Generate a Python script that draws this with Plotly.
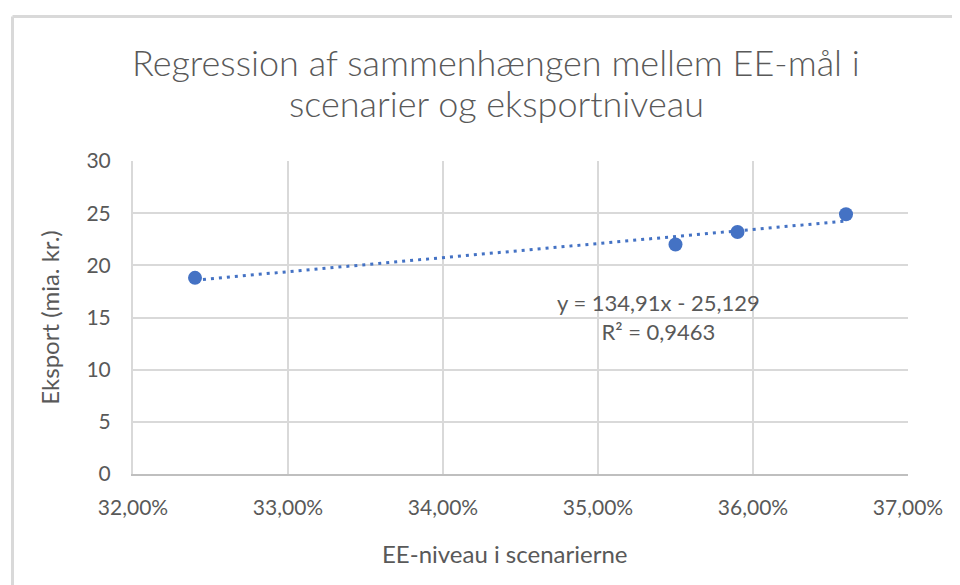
import plotly.graph_objects as go

# Data
ee_level = [0.324, 0.355, 0.359, 0.366]
export_bn = [18.8, 22.0, 23.2, 24.9]
slope = 134.91
intercept = -25.129
r_squared = 0.9463
title_lines = ["Regression af sammenhængen mellem EE-mål i", "scenarier og eksportniveau"]
x_title = "EE-niveau i scenarierne"
y_title = "Eksport (mia. kr.)"

OFF = 8  # page body margin
W, H = 960 - OFF, 585 - OFF
L = 133 - OFF
T = 161 - OFF
R = W - (908 - OFF)
B = H - (474 - OFF)
pw, ph = W - L - R, H - T - B

def px(xp):
    return (xp - OFF - L) / pw

def py(yp):
    return (H - B - (yp - OFF)) / ph

FONT = "Lato"
GREY = "#595959"
BLUE = "#4472C4"

trend_x = [min(ee_level), max(ee_level)]
trend_y = [slope * v + intercept for v in trend_x]

fig = go.Figure()
fig.add_trace(go.Scatter(x=trend_x, y=trend_y, mode="lines",
                         line=dict(color=BLUE, width=3, dash="3px,5px"),
                         hoverinfo="skip", showlegend=False))
fig.add_trace(go.Scatter(x=ee_level, y=export_bn, mode="markers",
                         marker=dict(color=BLUE, size=14),
                         showlegend=False))

fig.update_layout(
    width=W, height=H,
    margin=dict(l=L, r=R, t=T, b=B),
    paper_bgcolor="white", plot_bgcolor="white",
    separators=",.",
    font=dict(family=FONT, color=GREY, size=21),
    xaxis=dict(range=[0.32, 0.37], dtick=0.01, tick0=0.32, tickformat=".2%",
               showgrid=True, gridcolor="#d9d9d9", gridwidth=2,
               showline=True, linecolor="#bfbfbf", linewidth=2,
               zeroline=False, ticks="", ticklabelstandoff=14,
               tickfont=dict(size=21, color=GREY)),
    yaxis=dict(range=[0, 30], dtick=5, showgrid=True, gridcolor="#d9d9d9", gridwidth=2,
               showline=True, linecolor="#d9d9d9", linewidth=2,
               zeroline=False, ticks="", ticklabelstandoff=16,
               title=dict(text=y_title, font=dict(size=24, color=GREY), standoff=20),
               tickfont=dict(size=21, color=GREY)),
)

for line_text, yc in zip(title_lines, [62, 103]):
    fig.add_annotation(xref="paper", yref="paper", x=px(496), y=py(yc),
                       text=line_text, showarrow=False, xanchor="center", yanchor="middle",
                       font=dict(family=FONT, size=36, color=GREY, weight=300))
fig.add_annotation(xref="paper", yref="paper", x=px(504), y=py(553),
                   text=x_title, showarrow=False, xanchor="center", yanchor="middle",
                   font=dict(family=FONT, size=24, color=GREY))
eq_text = "y = {}x - {}<br>R² = {}".format(
    f"{slope:.2f}".replace(".", ","),
    f"{abs(intercept):.3f}".replace(".", ","),
    f"{r_squared:.4f}".replace(".", ","))
fig.add_annotation(xref="paper", yref="paper", x=px(658), y=py(317),
                   text=eq_text, showarrow=False, xanchor="center", yanchor="middle",
                   font=dict(family=FONT, size=22, color=GREY))

# chart border (left and top)
fig.add_shape(type="line", xref="paper", yref="paper",
              x0=px(12.5), x1=px(12.5), y0=py(16.5), y1=py(600),
              line=dict(color="#d9d9d9", width=3))
fig.add_shape(type="line", xref="paper", yref="paper",
              x0=px(12.5), x1=px(980), y0=py(16.5), y1=py(16.5),
              line=dict(color="#d9d9d9", width=3))

fig.write_html("out.html")
